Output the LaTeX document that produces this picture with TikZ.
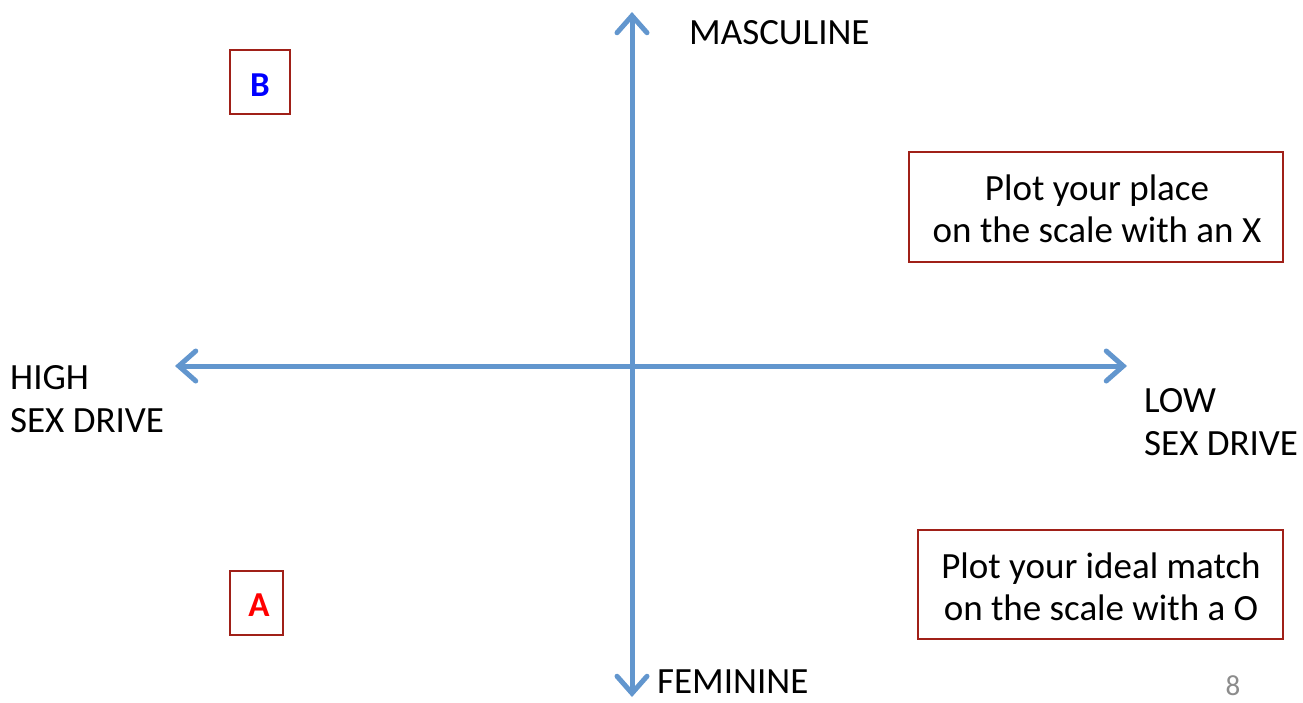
\documentclass[tikz,border=0pt]{standalone}
\usepackage{fontspec}
\setmainfont{Carlito}
\usetikzlibrary{arrows.meta}
\definecolor{axisblue}{RGB}{98,150,206}
\definecolor{boxred}{RGB}{160,32,24}
\definecolor{pagegray}{RGB}{140,140,140}
\tikzset{
  axis/.style={draw=axisblue, line width=5pt, line cap=round,
    {Straight Barb[length=17pt,width=30pt,line width=5pt,line cap=round]}-{Straight Barb[length=17pt,width=30pt,line width=5pt,line cap=round]}},
  lbl/.style={font=\fontsize{37}{42.5}\selectfont, inner sep=0pt, text=black},
  redbox/.style={draw=boxred, line width=2pt, inner sep=0pt},
}
\begin{document}
\begin{tikzpicture}[x=1pt,y=-1pt]
\useasboundingbox (0,0) rectangle (1303,702);
% axes end points
\coordinate (top) at (632,12);
\coordinate (bot) at (632,697);
\coordinate (left) at (175,366);
\coordinate (right) at (1127,366);
\draw[axis] (left) -- (right);
\draw[axis] (bot) -- (top);
% axis labels
\node[lbl, anchor=west] (masc) at (689,33) {MASCULINE};
\node[lbl, anchor=west] (fem) at (657,682) {FEMININE};
\node[lbl, anchor=west, align=left] (high) at (10,399) {HIGH\\SEX DRIVE};
\node[lbl, anchor=west, align=left] (low) at (1144,422) {LOW\\SEX DRIVE};
% letter boxes
\draw[redbox] (230,50) rectangle (290,114);
\node[lbl, font=\fontsize{35}{41}\selectfont\bfseries, text=blue] (B) at (260,85) {B};
\draw[redbox] (230,571) rectangle (283,635);
\node[lbl, font=\fontsize{35}{41}\selectfont\bfseries, text=red] (A) at (259,605) {A};
% instruction boxes
\draw[redbox] (909,152) rectangle (1283,262);
\node[lbl, align=center] (plotx) at (1097,209) {Plot your place\\on the scale with an X};
\draw[redbox] (918,530) rectangle (1283,639);
\node[lbl, align=center] (ploto) at (1101,587) {Plot your ideal match\\on the scale with a O};
% page number
\node[lbl, text=pagegray, font=\fontsize{29}{34}\selectfont] (pg) at (1233,686) {8};
\end{tikzpicture}
\end{document}
